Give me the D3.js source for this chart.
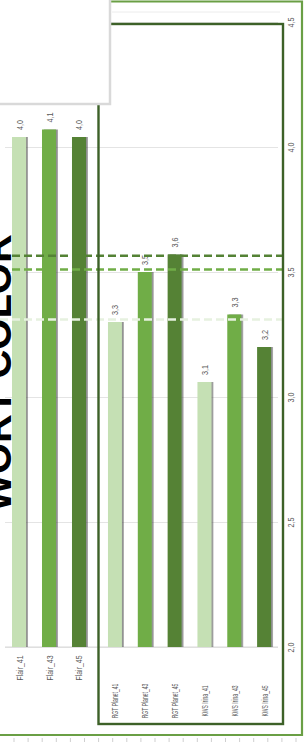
<!DOCTYPE html>
<html>
<head>
<meta charset="utf-8">
<script src="https://cdn.jsdelivr.net/npm/d3@7"></script>
<style>
  html, body { margin: 0; padding: 0; background: #fff; }
  svg { display: block; font-family: "Liberation Sans", Arial, sans-serif; }
</style>
</head>
<body>
<div id="chart"></div>
<script>
// values
const flairCats = ['Flair_41', 'Flair_43', 'Flair_45'];
const flairValues = [4.04, 4.07, 4.04];
const mainCats = ['RGT Planet_41', 'RGT Planet_43', 'RGT Planet_45', 'KWS Irina_41', 'KWS Irina_43', 'KWS Irina_45'];
const mainValues = [3.30, 3.50, 3.57, 3.06, 3.33, 3.20];
const refValues = [3.31, 3.51, 3.565];
const yTicks = [2.0, 2.5, 3.0, 3.5, 4.0, 4.5];
const title = 'WORT COLOR';

const width = 305, height = 742;
const colors = { '41': '#c5e0b4', '43': '#70ad47', '45': '#548235' };
const refColors = ['#e6f1df', '#70ad47', '#548235'];
const textGray = '#595959';
const comma = d => d3.format('.1f')(d).replace('.', ',');
const suffix = c => c.slice(-2);

const svg = d3.select('#chart').append('svg')
  .attr('width', width)
  .attr('height', height);

const defs = svg.append('defs');
defs.append('filter')
  .attr('id', 'sh')
  .attr('x', '-50%').attr('y', '-5%').attr('width', '200%').attr('height', '110%')
  .append('feDropShadow')
  .attr('dx', 1.8).attr('dy', 0).attr('stdDeviation', 0.7)
  .attr('flood-color', '#444').attr('flood-opacity', 0.6);

const y = d3.scaleLinear().domain([2, 4.5]).range([647, 22]);

const xLeft = d3.scaleBand().domain(flairCats).range([4, 94])
  .paddingInner(0.533).paddingOuter(0.267);
const xMain = d3.scaleBand().domain(mainCats).range([100, 279])
  .paddingInner(0.533).paddingOuter(0.267);

function rot(sel, x, yy, sx) {
  sel.attr('transform', 'translate(' + x + ',' + yy + ') rotate(-90) scale(' + sx + ',1)');
}

// outer chart border
svg.append('path')
  .attr('d', 'M110,1.5 H302 V735 H0')
  .attr('fill', 'none')
  .attr('stroke', '#6a9f45')
  .attr('stroke-width', 2.2);
svg.append('line')
  .attr('x1', 112).attr('x2', 280).attr('y1', 12).attr('y2', 12)
  .attr('stroke', '#ececec');

// ruler ticks under the chart
svg.append('g').selectAll('line')
  .data(d3.range(14, width, 14.1))
  .join('line')
  .attr('x1', d => d).attr('x2', d => d)
  .attr('y1', 738).attr('y2', 742)
  .attr('stroke', '#cfcfcf');

// grid lines
const grid = svg.append('g')
  .attr('transform', 'translate(278,0)')
  .call(d3.axisLeft(y).tickValues(yTicks).tickSize(273).tickFormat(''));
grid.select('.domain').remove();
grid.selectAll('line').attr('stroke', '#e4e4e4');

// value axis labels
const yAxis = svg.append('g')
  .call(d3.axisRight(y).tickValues(yTicks).tickSize(0).tickFormat(comma));
yAxis.select('.domain').remove();
yAxis.selectAll('text')
  .attr('x', null).attr('dy', null)
  .attr('text-anchor', 'middle')
  .attr('font-size', 9)
  .attr('fill', textGray)
  .attr('font-family', '"Liberation Sans", Arial, sans-serif')
  .each(function () { rot(d3.select(this), 294, 0, 0.8); });

// baseline
svg.append('line')
  .attr('x1', 5).attr('x2', 278)
  .attr('y1', y(2)).attr('y2', y(2))
  .attr('stroke', '#d9d9d9');

function drawGroup(cats, vals, x, catY, catScale) {
  const data = cats.map((c, i) => ({ c, v: vals[i] }));
  const g = svg.append('g');
  g.selectAll('rect')
    .data(data)
    .join('rect')
    .attr('x', d => x(d.c))
    .attr('width', x.bandwidth())
    .attr('y', d => y(d.v))
    .attr('height', d => y(2) - y(d.v))
    .attr('fill', d => colors[suffix(d.c)])
    .attr('filter', 'url(#sh)');
  g.selectAll('text.val')
    .data(data)
    .join('text')
    .attr('class', 'val')
    .attr('text-anchor', 'middle')
    .attr('font-size', 9)
    .attr('fill', textGray)
    .text(d => comma(d.v))
    .each(function (d) { rot(d3.select(this), x(d.c) + x.bandwidth() / 2 + 3.5, y(d.v) - 12, 0.8); });
  g.selectAll('text.cat')
    .data(data)
    .join('text')
    .attr('class', 'cat')
    .attr('text-anchor', 'middle')
    .attr('font-size', 9)
    .attr('fill', textGray)
    .text(d => d.c)
    .each(function (d) { rot(d3.select(this), x(d.c) + x.bandwidth() / 2 + 3.5, catY, catScale); });
}

drawGroup(flairCats, flairValues, xLeft, 668, 0.77);
drawGroup(mainCats, mainValues, xMain, 701, 0.56);

// dashed reference lines
svg.append('g').selectAll('line')
  .data(refValues)
  .join('line')
  .attr('x1', 0).attr('x2', 283)
  .attr('y1', d => y(d)).attr('y2', d => y(d))
  .attr('stroke', (d, i) => refColors[i])
  .attr('stroke-width', 2.6)
  .attr('stroke-dasharray', '8,4');

// dark inner frame
svg.append('rect')
  .attr('x', 98.5).attr('y', 24)
  .attr('width', 184.5).attr('height', 700)
  .attr('fill', 'none')
  .attr('stroke', '#3d6128')
  .attr('stroke-width', 2.4);

// title
svg.append('text')
  .attr('text-anchor', 'middle')
  .attr('font-size', 40)
  .attr('font-weight', 'bold')
  .attr('fill', '#000')
  .text(title)
  .call(s => rot(s, 11, 373, 1));

// white box over the top left corner
svg.append('rect')
  .attr('x', -3).attr('y', -3)
  .attr('width', 113).attr('height', 107)
  .attr('fill', '#fff')
  .attr('stroke', '#d9d9d9')
  .attr('stroke-width', 2.5);
</script>
</body>
</html>
